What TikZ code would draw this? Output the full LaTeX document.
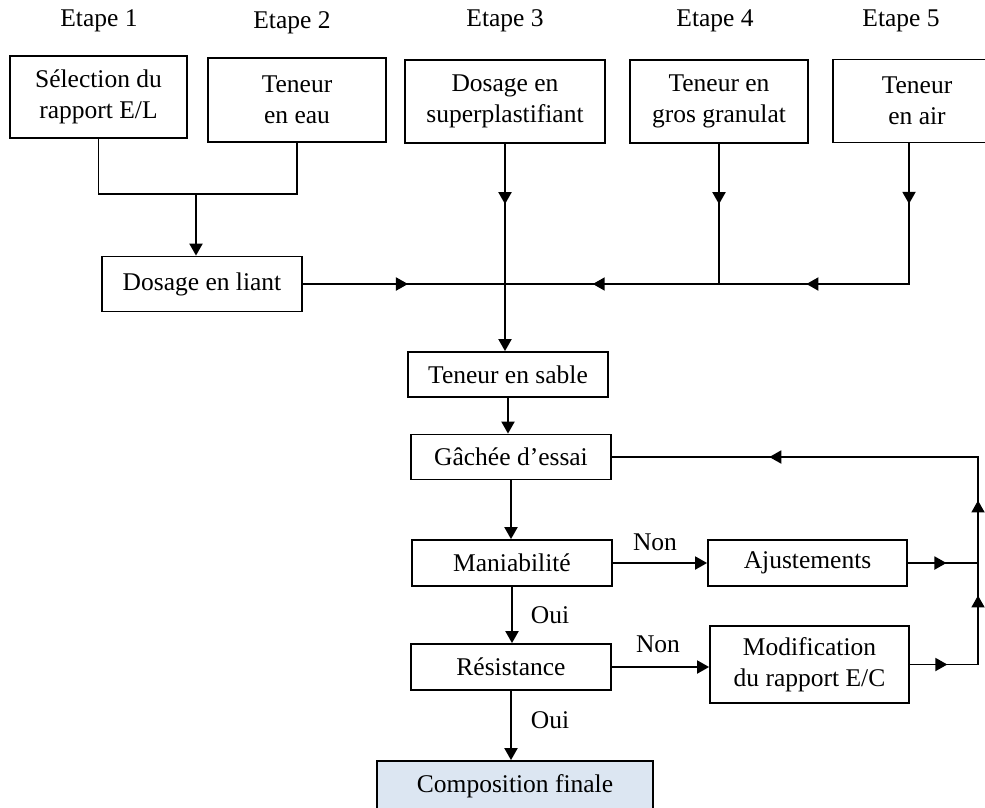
\documentclass[tikz,border=0pt]{standalone}
\usepackage{fontspec}
\setmainfont{Liberation Serif}
\usepackage{tikz}
\usetikzlibrary{arrows.meta, decorations.markings}

\definecolor{finfill}{RGB}{220,230,242}

\tikzset{
  box/.style = {draw, rectangle, line width=1.8pt, align=center, inner sep=0pt},
  arr/.style = {-{Triangle[length=12pt,width=13pt]}},
  mid/.style = {postaction={decorate},
                decoration={markings, mark=at position #1 with {\arrow{Triangle[length=12pt,width=13pt]}}}},
}

\begin{document}
\begin{tikzpicture}[x=1pt, y=-1pt, line width=1.9pt, line cap=rect, font=\fontsize{25.5}{31}\selectfont]

\useasboundingbox (0,0) rectangle (985,807);

% etapes
\node (e1) at ( 99,21) {Etape 1};
\node (e2) at (292,23) {Etape 2};
\node (e3) at (505,21) {Etape 3};
\node (e4) at (715,21) {Etape 4};
\node (e5) at (901,21) {Etape 5};

\node [box, minimum width=177pt, minimum height=82pt] (b1) at ( 98.5, 97  ) {Sélection du\\rapport E/L};
\node [box, minimum width=178pt, minimum height=84pt] (b2) at (297  ,100  ) {Teneur\\en eau};
\node [box, minimum width=200pt, minimum height=83pt] (b3) at (505  ,101.5) {Dosage en\\superplastifiant};
\node [box, minimum width=178pt, minimum height=83pt] (b4) at (719  ,101.5) {Teneur en\\gros granulat};
\node [box, minimum width=168pt, minimum height=83pt] (b5) at (917  ,101  ) {Teneur\\en air};

\node [box, minimum width=200pt, minimum height=55pt] (liant)  at (202  ,284  ) {Dosage en liant};
\node [box, minimum width=200pt, minimum height=45pt] (sable)  at (508  ,374.5) {Teneur en sable};
\node [box, minimum width=200pt, minimum height=45pt] (gachee) at (511  ,457  ) {Gâchée d’essai};
\node [box, minimum width=200pt, minimum height=46pt] (mani)   at (512  ,563  ) {Maniabilité};
\node [box, minimum width=200pt, minimum height=46pt] (resist) at (511  ,667  ) {Résistance};
\node [box, minimum width=276pt, minimum height=50pt, fill=finfill] (fin) at (515,786) {Composition finale};

\node [box, minimum width=199pt, minimum height=46pt] (ajust)  at (807.5,563  ) {Ajustements};
\node [box, minimum width=199pt, minimum height=77pt] (modif)  at (809.5,664.5) {Modification\\du rapport E/C};

% branchements
\coordinate (j12) at (196,194);
\coordinate (h3)  at (b3.south |- liant.east);
\coordinate (h4)  at (b4.south |- liant.east);
\coordinate (v5)  at ([xshift=-8pt]b5.south);
\coordinate (h5)  at (v5 |- liant.east);
\coordinate (r1)  at (978,457);
\coordinate (rA)  at (r1 |- ajust.east);
\coordinate (rM)  at (r1 |- modif.east);

\path [draw] (b1.south) |- (j12) -| (b2.south);
\path [draw, arr] (j12) -- (j12 |- liant.north);

\path [draw, mid=0.52] (liant.east) -- (h3);
\path [draw, mid=0.59] (h4) -- (h3);
\path [draw, mid=0.54] (h5) -- (h4);

\path [draw, mid=0.43] (b3.south) -- (h3);
\path [draw, mid=0.43] (b4.south) -- (h4);
\path [draw, mid=0.43] (v5) -- (h5);

\path [draw, arr] (h3) -- (h3 |- sable.north);
\path [draw, arr] (sable.south) -- (sable.south |- gachee.north);
\path [draw, arr] (gachee.south) -- (gachee.south |- mani.north);
\path [draw, arr] (mani.south) -- (mani.south |- resist.north);
\path [draw, arr] (resist.south) -- (resist.south |- fin.north);

\path [draw, arr] (mani.east) -- (ajust.west);
\path [draw, arr] (resist.east) -- (resist.east -| modif.west);

\path [draw, mid=0.55] (ajust.east) -- (rA);
\path [draw, mid=0.55] (modif.east) -- (rM);
\path [draw, mid=0.68] (rM) -- (rA);
\path [draw, mid=0.59] (rA) -- (r1);
\path [draw, mid=0.57] (r1) -- (gachee.east);

% labels
\node (non1) at (655,542) {Non};
\node (non2) at (658,644) {Non};
\node (oui1) at (550,615) {Oui};
\node (oui2) at (550,720) {Oui};

\end{tikzpicture}
\end{document}
